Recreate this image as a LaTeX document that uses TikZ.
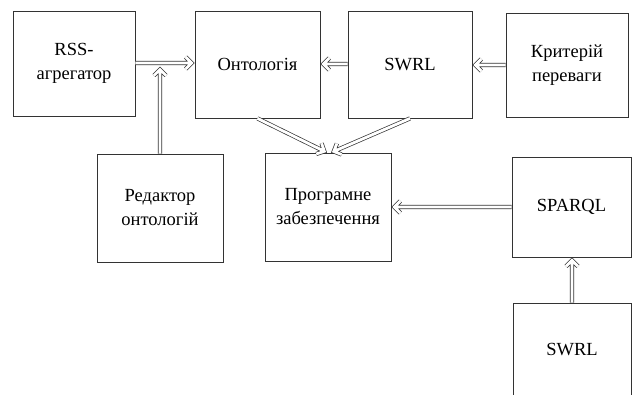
\documentclass[tikz,border=0pt]{standalone}
\usepackage{fontspec}
\setmainfont{Liberation Serif}
\usetikzlibrary{calc}
\begin{document}
\begin{tikzpicture}[x=1pt,y=-1pt,
  blk/.style={draw=black!80,line width=0.8pt,inner sep=0pt,align=center,
    font=\fontsize{18.5}{24}\selectfont},
  dbl/.style={draw=black!80,double=white,line width=0.7pt,double distance=2.8pt,line join=miter,
    to path={($(\tikztotarget)!3pt!(\tikztostart)$) coordinate (tp)
      (\tikztostart) -- (tp)
      ($(tp)!8.5pt!45:(\tikztostart)$) -- (tp) -- ($(tp)!8.5pt!-45:(\tikztostart)$)}}]
\clip (0,0) rectangle (632,394);
\fill[white] (0,0) rectangle (632,394);
\node[blk,minimum width=122pt,minimum height=105pt] (rss) at (74,63.5) {RSS-\\агрегатор};
\node[blk,minimum width=125pt,minimum height=107pt] (ont) at (257.5,64.5) {Онтологія};
\node[blk,minimum width=124pt,minimum height=107pt] (swrl) at (410,64.5) {SWRL};
\node[blk,minimum width=122pt,minimum height=104pt] (krit) at (567,65) {Критерій\\переваги};
\node[blk,minimum width=126pt,minimum height=108pt] (red) at (160,208) {Редактор\\онтологій};
\node[blk,minimum width=126pt,minimum height=108pt] (prog) at (328,207) {Програмне\\забезпечення};
\node[blk,minimum width=119pt,minimum height=100pt] (sparql) at (571.5,207) {SPARQL};
\node[blk,minimum width=118pt,minimum height=94pt] (swrlb) at (572,350) {SWRL};
\coordinate (a1) at (rss.east |- 0,63);
\coordinate (b1) at (ont.west |- 0,63);
\coordinate (join) at (160,66.5);
\coordinate (a3) at (swrl.west |- 0,64);
\coordinate (b3) at (ont.east |- 0,64);
\coordinate (a4) at (krit.west |- 0,65);
\coordinate (b4) at (swrl.east |- 0,65);
\coordinate (p1) at ($(prog.north)+(-1,0)$);
\coordinate (p2) at ($(prog.north)+(3,0)$);
\coordinate (s1) at (sparql.south -| swrlb.north);
\draw[dbl] (a1) to (b1);
\draw[dbl] (red.north) to (join);
\draw[dbl] (a3) to (b3);
\draw[dbl] (a4) to (b4);
\draw[dbl] (ont.south) to (p1);
\draw[dbl] (swrl.south) to (p2);
\draw[dbl] (sparql.west) to (prog.east);
\draw[dbl] (swrlb.north) to (s1);
\end{tikzpicture}
\end{document}
